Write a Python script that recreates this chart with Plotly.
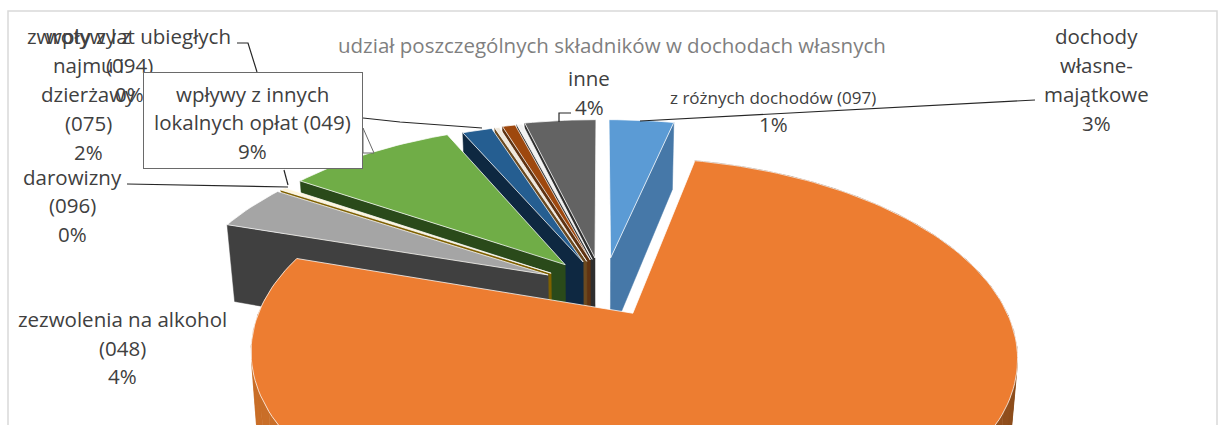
import math
import plotly.graph_objects as go

# ---- data (clockwise from 12 o'clock) ----
categories = ["dochody własne-majątkowe", "wpływy z opłat lokalnych", "zezwolenia na alkohol (048)",
              "darowizny (096)", "wpływy z innych lokalnych opłat (049)", "wpływy z najmu i dzierżawy (075)",
              "zwroty z lat ubiegłych (094)", "z różnych dochodów (097)", "odsetki", "inne"]
values = [3.5, 76.5, 4.0, 0.3, 9.0, 1.6, 0.25, 0.7, 0.3, 3.85]
top_colors = ["#5B9BD5", "#ED7D31", "#A5A5A5", "#FFF6DC", "#70AD47", "#255E91",
              "#F0E8DC", "#9E480E", "#F2F2F2", "#636363"]
wall_colors = ["#4678A8", "#C96E28", "#404040", "#7F6000", "#2A4A1A", "#0E2841",
               "#6B4A20", "#5F3312", "#2E2E2E", "#2E2E2E"]
explode_u = [0.027, 0.085, -0.146, -0.138, -0.10, -0.05, -0.04, -0.03, -0.025, -0.017]
explode_v = [0.0, -0.312, -0.10, -0.09, -0.04, -0.024, -0.02, -0.012, -0.008, 0.0]
draw_order = [9, 8, 7, 6, 5, 4, 3, 2, 0, 1]
wall_edge = {0: "end", 2: "start", 3: "start", 4: "start", 5: "start", 6: "start", 7: "start", 8: "start", 9: "start"}

title = "udział poszczególnych składników w dochodach własnych"

# ---- projection of the tilted pie ----
CX, CY, A, B, K, TH, XSHRINK = 601, 258, 355, 166, 0.2, 80, 0.98
ORANGE = 1
ORANGE_A = 351


def proj(u, v, a=A, bottom=False):
    s = 1 / (1 + K * v)
    x, y = a * u * s, -B * v * s
    if bottom:
        return CX + x * XSHRINK, CY + y + TH * s
    return CX + x, CY + y


def hexmix(c1, c2, t):
    a = [int(c1[i:i + 2], 16) for i in (1, 3, 5)]
    b = [int(c2[i:i + 2], 16) for i in (1, 3, 5)]
    return "rgb(%d,%d,%d)" % tuple(round(a[i] + (b[i] - a[i]) * t) for i in range(3))


total = sum(values)
angles = [0]
for val in values:
    angles.append(angles[-1] + val / total * 2 * math.pi)

fig = go.Figure()


def poly(pts, color, name, line=None):
    xs = [p[0] for p in pts] + [pts[0][0]]
    ys = [p[1] for p in pts] + [pts[0][1]]
    fig.add_trace(go.Scatter(x=xs, y=ys, mode="lines", fill="toself", fillcolor=color, name=name,
                             line=dict(color=line or color, width=1 if line else 0.5),
                             hoverinfo="name", showlegend=False))


for i in draw_order:
    t0, t1 = angles[i], angles[i + 1]
    eu, ev = explode_u[i], explode_v[i]
    a = ORANGE_A if i == ORANGE else A
    if i == ORANGE:
        # curved front wall, shaded from dark (right) to mid orange (left)
        n = 60
        for k in range(n):
            p = t0 + (t1 - t0) * k / n
            q = t0 + (t1 - t0) * (k + 1) / n
            pts = [proj(eu + math.sin(p), ev + math.cos(p), a),
                   proj(eu + math.sin(q), ev + math.cos(q), a),
                   proj(eu + math.sin(q), ev + math.cos(q), a, True),
                   proj(eu + math.sin(p), ev + math.cos(p), a, True)]
            poly(pts, hexmix("#5F3312", wall_colors[i], min(1, k / n * 1.25)), categories[i])
    else:
        edge = t1 if wall_edge[i] == "end" else t0
        pts = [proj(eu, ev, a), proj(eu + math.sin(edge), ev + math.cos(edge), a),
               proj(eu + math.sin(edge), ev + math.cos(edge), a, True), proj(eu, ev, a, True)]
        poly(pts, wall_colors[i], categories[i])
    steps = max(4, int((t1 - t0) * 40))
    face = [proj(eu, ev, a)]
    for k in range(steps + 1):
        p = t0 + (t1 - t0) * k / steps
        face.append(proj(eu + math.sin(p), ev + math.cos(p), a))
    poly(face, top_colors[i], categories[i], line="rgba(255,255,255,0.75)")

INK = "#404040"
BIG, SMALL = 20.5, 17
# (text, x-centre, y-centre, size); drawn in order
labels_under = [
    ("zwroty z lat ubiegłych", 129, 36, BIG), ("(094)", 129, 65, BIG), ("0%", 129, 94, BIG),
    ("wpływy z", 88, 36, BIG), ("najmu i", 88, 65, BIG), ("dzierżawy", 88, 94, BIG),
    ("(075)", 88, 123, BIG), ("2%", 88, 152, BIG),
]
labels_over = [
    ("wpływy z innych", 252, 94, BIG), ("lokalnych opłat (049)", 252, 122, BIG), ("9%", 252, 151, BIG),
    ("darowizny", 72, 177, BIG), ("(096)", 72, 205, BIG), ("0%", 72, 234, BIG),
    ("inne", 589, 78, BIG), ("4%", 589, 107, BIG),
    ("z różnych dochodów (097)", 773, 97, SMALL), ("1%", 773, 124, BIG),
    ("dochody", 1096, 36, BIG), ("własne-", 1096, 65, BIG), ("majątkowe", 1096, 94, BIG), ("3%", 1096, 123, BIG),
    ("zezwolenia na alkohol", 122, 319, BIG), ("(048)", 122, 348, BIG), ("4%", 122, 376, BIG),
]


def text_note(t, x, y, size, color=INK):
    return dict(text=t, x=x, y=y, xref="x", yref="y", showarrow=False, xanchor="center", yanchor="middle",
                font=dict(size=size, color=color, family="Open Sans"))


notes = [text_note(*l) for l in labels_under]
notes.append(dict(text=" ", x=253, y=120.5, xref="x", yref="y", showarrow=False, width=218, height=95,
                  bgcolor="white", bordercolor="#6A6A6A", borderwidth=1, borderpad=0))
notes += [text_note(*l) for l in labels_over]
notes.append(text_note(title, 612, 45, BIG, "#7F7F7F"))

shapes = [dict(type="rect", x0=8, y0=11, x1=1217, y1=440, xref="x", yref="y",
               line=dict(color="#D9D9D9", width=1.5), layer="below")]
leaders = ["M237,43 L248,43 L257,72", "M284,170 L288,185", "M127,184 L288,187",
           "M363,118 L400,122 L482,128", "M559,122 L559,113 L571,113", "M640,121 L1035,100"]
for d in leaders:
    shapes.append(dict(type="path", path=d, xref="x", yref="y", line=dict(color="#262626", width=1.2)))
shapes.append(dict(type="path", path="M363,128 L374,153 L363,153 Z", xref="x", yref="y",
                   fillcolor="white", line=dict(color="#6A6A6A", width=1)))

fig.update_layout(
    width=1218, height=425, margin=dict(l=0, r=0, t=0, b=0), paper_bgcolor="white", plot_bgcolor="white",
    xaxis=dict(range=[0, 1218], visible=False, fixedrange=True),
    yaxis=dict(range=[425, 0], visible=False, fixedrange=True),
    annotations=notes, shapes=shapes, showlegend=False,
)
fig.write_html("out.html", config={"displayModeBar": False},
               post_script="document.body.style.margin='0';document.body.style.overflow='hidden';")
